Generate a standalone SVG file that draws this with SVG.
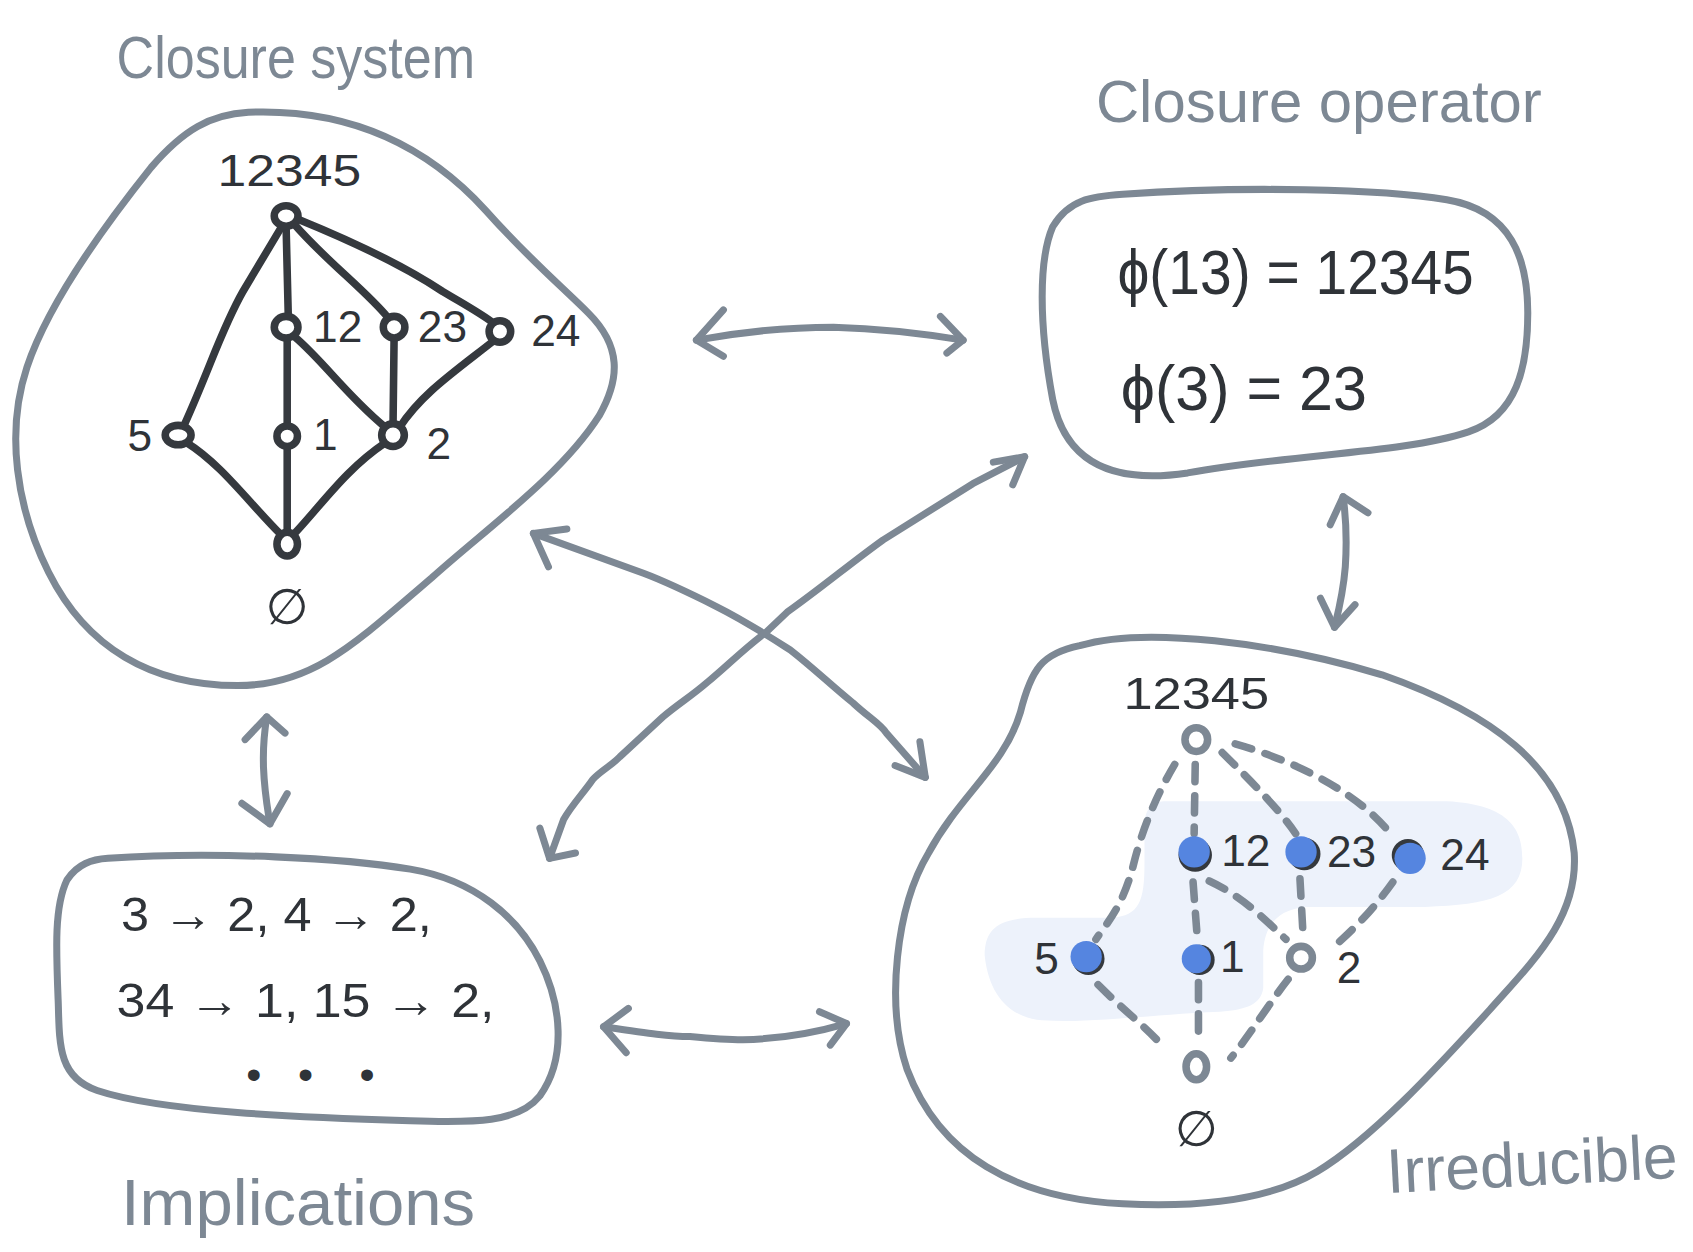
<svg xmlns="http://www.w3.org/2000/svg" width="1693" height="1252" viewBox="0 0 1693 1252">
  <style>
    .outline { fill: none; stroke: #7d8894; stroke-width: 6.5; stroke-linecap: round; stroke-linejoin: round; }
    .arrow { fill: none; stroke: #7d8894; stroke-width: 6.5; stroke-linecap: round; stroke-linejoin: round; }
    .edge { fill: none; stroke: #35393e; stroke-width: 7; stroke-linecap: round; }
    .dash { fill: none; stroke: #7d8894; stroke-width: 7; stroke-linecap: round; stroke-dasharray: 16 13; }
    .node { fill: #ffffff; stroke: #35393e; stroke-width: 7; }
    .gnode { fill: #ffffff; stroke: #7d8894; stroke-width: 7; }
    .bshadow { fill: #35393e; }
    .bnode { fill: #5585e0; }
    .title { font-family: "Liberation Sans", "DejaVu Sans", sans-serif; fill: #7d8894; }
    .num { font-family: "Liberation Sans", "DejaVu Sans", sans-serif; fill: #2f3338; font-size: 41px; }
    .empty { font-family: "DejaVu Sans", "Liberation Sans", sans-serif; fill: #2f3338; font-size: 46px; text-anchor: middle; }
    .math { font-family: "Liberation Sans", "DejaVu Sans", sans-serif; fill: #2f3338; }
  </style>
  <rect width="1693" height="1252" fill="#ffffff"/>
  <g transform="scale(1.0797)">

    <!-- Closure system: lattice of closed sets -->
    <g id="closure-system">
      <path class="outline" d="M230,104 C330,100 400,140 450,195 C490,240 520,265 545,290 C575,320 575,350 555,385 C520,440 450,490 400,535 C330,595 290,635 220,635 C140,635 80,600 45,530 C15,470 5,400 25,340 C45,280 100,205 140,155 C170,120 195,106 230,104 Z"/>
      <text class="title" x="108" y="72" font-size="54" textLength="332" lengthAdjust="spacingAndGlyphs">Closure system</text>
      <g id="cs-edges">
        <path class="edge" d="M262,208 L225,270 C205,305 195,340 170,395"/>
        <path class="edge" d="M265,210 L267,293"/>
        <path class="edge" d="M272,207 C300,240 340,270 360,295"/>
        <path class="edge" d="M276,203 C330,225 380,250 410,270 C430,282 445,290 458,300"/>
        <path class="edge" d="M266,313 L266,395"/>
        <path class="edge" d="M273,312 C300,335 320,365 356,395"/>
        <path class="edge" d="M365,313 L364,395"/>
        <path class="edge" d="M458,315 C420,345 390,365 370,396"/>
        <path class="edge" d="M173,410 C205,430 230,465 260,495"/>
        <path class="edge" d="M266,413 L266,495"/>
        <path class="edge" d="M357,410 C320,435 300,465 272,495"/>
      </g>
      <g id="cs-top"><ellipse class="node" cx="265" cy="200" rx="11" ry="9.5"/><text class="num" x="268" y="172" text-anchor="middle" textLength="133" lengthAdjust="spacingAndGlyphs">12345</text></g>
      <g id="cs-12"><ellipse class="node" cx="265" cy="303" rx="11" ry="10"/><text class="num" x="290" y="317">12</text></g>
      <g id="cs-23"><circle class="node" cx="365" cy="303" r="10"/><text class="num" x="387" y="317">23</text></g>
      <g id="cs-24"><circle class="node" cx="463" cy="307" r="10"/><text class="num" x="492" y="320">24</text></g>
      <g id="cs-5"><ellipse class="node" cx="165" cy="403" rx="12" ry="9"/><text class="num" x="118" y="418">5</text></g>
      <g id="cs-1"><circle class="node" cx="266" cy="404" r="9.5"/><text class="num" x="290" y="417">1</text></g>
      <g id="cs-2"><circle class="node" cx="364" cy="403" r="10.5"/><text class="num" x="395" y="425">2</text></g>
      <g id="cs-empty"><ellipse class="node" cx="266" cy="504" rx="9.5" ry="11"/><text class="empty" x="266" y="578">∅</text></g>
    </g>

    <!-- Closure operator -->
    <g id="closure-operator">
      <path class="outline" d="M1040,180 C1150,172 1280,175 1340,185 C1400,195 1415,240 1415,290 C1415,340 1405,385 1360,400 C1300,420 1200,420 1100,438 C1020,450 985,420 975,370 C962,300 962,240 975,210 C990,185 1010,182 1040,180 Z"/>
      <text class="title" x="1015" y="113" font-size="54" textLength="413" lengthAdjust="spacingAndGlyphs">Closure operator</text>
      <text class="math" x="1035" y="272" font-size="58" textLength="330" lengthAdjust="spacingAndGlyphs">ϕ(13) = 12345</text>
      <text class="math" x="1038" y="380" font-size="58" textLength="228" lengthAdjust="spacingAndGlyphs">ϕ(3) = 23</text>
    </g>

    <!-- Implications -->
    <g id="implications">
      <path class="outline" d="M100,795 C200,788 320,795 380,805 C440,815 480,850 500,890 C520,930 525,980 500,1015 C480,1040 440,1040 380,1038 C280,1035 150,1030 90,1010 C55,998 55,970 54,930 C52,880 50,840 62,815 C72,800 85,796 100,795 Z"/>
      <text class="math" x="112" y="862" font-size="45" textLength="288" lengthAdjust="spacingAndGlyphs">3 → 2, 4 → 2,</text>
      <text class="math" x="108" y="942" font-size="45" textLength="350" lengthAdjust="spacingAndGlyphs">34 → 1, 15 → 2,</text>
      <text class="math" x="235 283 340" y="1009" font-size="40" text-anchor="middle">•••</text>
      <text class="title" x="112" y="1135" font-size="60" textLength="328" lengthAdjust="spacingAndGlyphs">Implications</text>
    </g>

    <!-- Irreducible elements highlighted in the lattice -->
    <g id="irreducible">
      <path class="outline" d="M1000,598 C1060,580 1180,595 1280,625 C1380,660 1450,710 1458,790 C1462,850 1420,890 1380,935 C1330,990 1270,1055 1220,1085 C1170,1115 1100,1118 1040,1115 C940,1110 870,1070 840,990 C820,930 830,840 860,790 C890,735 930,710 945,660 C955,620 965,605 1000,598 Z"/>
      <path fill="#edf2fb" d="M1080,742 L1340,742 C1400,745 1410,770 1410,795 C1410,830 1380,838 1320,840 L1210,840 C1185,842 1172,855 1170,880 L1170,915 C1168,930 1155,935 1130,937 C1060,940 1010,948 965,945 C930,942 915,915 912,885 C912,860 925,850 960,850 L1030,850 C1055,848 1060,835 1060,800 L1060,765 C1060,748 1068,742 1080,742 Z"/>
      <text class="title" x="1285" y="1105" font-size="58" textLength="270" lengthAdjust="spacingAndGlyphs" transform="rotate(-3 1285 1105)">Irreducible</text>
      <g id="ir-edges">
        <path class="dash" d="M1088,708 C1075,730 1060,760 1050,800 C1040,840 1025,855 1015,870"/>
        <path class="dash" d="M1107,708 L1106,772"/>
        <path class="dash" d="M1132,697 C1160,725 1185,750 1200,772"/>
        <path class="dash" d="M1144,689 C1200,705 1260,735 1290,775"/>
        <path class="dash" d="M1105,817 L1109,870"/>
        <path class="dash" d="M1120,816 C1150,830 1170,850 1191,870"/>
        <path class="dash" d="M1204,814 L1207,868"/>
        <path class="dash" d="M1290,817 C1270,845 1252,862 1232,880"/>
        <path class="dash" d="M1017,912 C1040,935 1060,950 1078,970"/>
        <path class="dash" d="M1110,910 L1110,968"/>
        <path class="dash" d="M1193,907 C1175,930 1160,955 1140,980"/>
      </g>
      <g id="ir-top"><ellipse class="gnode" cx="1108" cy="685" rx="10.5" ry="11"/><text class="num" x="1108" y="657" text-anchor="middle" textLength="135" lengthAdjust="spacingAndGlyphs">12345</text></g>
      <g id="ir-12"><circle class="bshadow" cx="1107" cy="792" r="15.5"/><circle class="bnode" cx="1106" cy="789" r="14.5"/><text class="num" x="1131" y="802">12</text></g>
      <g id="ir-23"><circle class="bshadow" cx="1208" cy="791" r="15"/><circle class="bnode" cx="1205" cy="789" r="14.5"/><text class="num" x="1229" y="803">23</text></g>
      <g id="ir-24"><circle class="bshadow" cx="1304" cy="792" r="15"/><circle class="bnode" cx="1306" cy="795" r="14.5"/><text class="num" x="1334" y="806">24</text></g>
      <g id="ir-5"><circle class="bshadow" cx="1008" cy="888" r="15"/><circle class="bnode" cx="1006" cy="886" r="14.5"/><text class="num" x="958" y="902">5</text></g>
      <g id="ir-1"><circle class="bshadow" cx="1111" cy="889" r="14"/><circle class="bnode" cx="1108" cy="888" r="13.5"/><text class="num" x="1130" y="900">1</text></g>
      <g id="ir-2"><circle class="gnode" cx="1205" cy="887" r="10.5"/><text class="num" x="1238" y="910">2</text></g>
      <g id="ir-empty"><ellipse class="gnode" cx="1108" cy="988" rx="9.5" ry="12"/><text class="empty" x="1108" y="1061">∅</text></g>
    </g>

    <!-- Double-headed connectors between the four views -->
    <g id="connectors">
      <path class="arrow" d="M645,315 C700,305 740,303 772,303 C810,304 850,308 892,315"/>
      <path class="arrow" d="M670,287 L645,315 L670,330 M871,293 L892,315 L877,327"/>
      <path class="arrow" d="M1244,460 C1248,490 1247,510 1246,525 C1244,550 1240,565 1236,581"/>
      <path class="arrow" d="M1232,486 L1244,460 L1267,475 M1223,554 L1236,581 L1255,560"/>
      <path class="arrow" d="M247,664 C243,690 244,700 244,710 C245,735 248,750 250,763"/>
      <path class="arrow" d="M227,685 L247,664 L264,679 M224,744 L250,763 L266,735"/>
      <path class="arrow" d="M559,951 C600,957 620,960 639,960 C660,962 680,963 688,963 C730,962 760,955 784,948"/>
      <path class="arrow" d="M582,934 L559,951 L580,975 M759,937 L784,948 L769,968"/>
      <path class="arrow" d="M494,494 L596,531 C620,540 640,550 664,562 C690,575 710,588 732,602 C755,620 770,635 790,651 C805,665 815,670 821,679 L857,720"/>
      <path class="arrow" d="M525,490 L494,494 L508,525 M829,709 L857,720 L852,687"/>
      <path class="arrow" d="M949,423 L901,448 L818,500 C790,520 760,545 729,567 L709,586 C690,600 672,618 655,632 C640,645 628,652 614,664 L574,701 C565,710 555,715 549,722 C540,735 530,745 522,759 L509,795"/>
      <path class="arrow" d="M920,428 L949,423 L938,449 M500,767 L509,795 L533,790"/>
    </g>
  </g>
</svg>
